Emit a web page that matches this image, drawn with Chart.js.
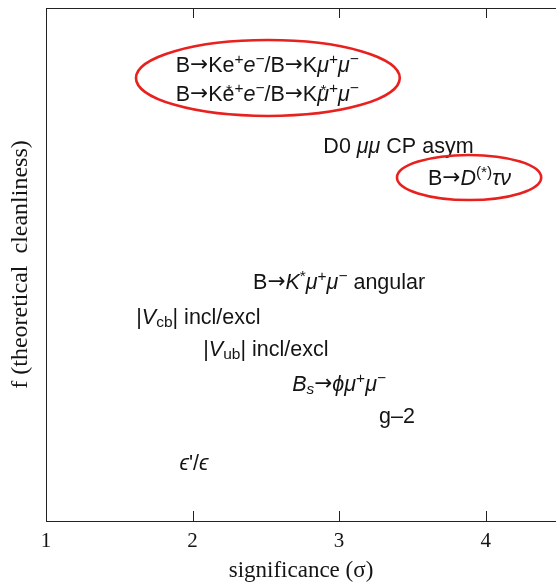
<!DOCTYPE html>
<html>
<head>
<meta charset="utf-8">
<script src="https://cdn.jsdelivr.net/npm/chart.js@4.4.1/dist/chart.umd.min.js"></script>
<style>
  html, body { margin: 0; padding: 0; background: #fff; }
  #wrap { width: 556px; height: 582px; }
</style>
</head>
<body>
<div id="wrap"><canvas id="c" width="556" height="582"></canvas></div>
<script>
// Measurements: label markup ($ toggles italic, ^{} superscript, _{} subscript,
// ~{} superscript drawn over the next glyph without advancing)
const measurements = [
  'B→Ke^{+}$e$^{−}/B→K$μ$^{+}$μ$^{−}',
  'B→K~{*}e^{+}$e$^{−}/B→K~{*}$μ$^{+}$μ$^{−}',
  'D0 $μμ$ CP asym',
  'B→$D$^{(*)}$τν$',
  'B→$K$^{*}$μ$^{+}$μ$^{−} angular',
  '|$V$_{cb}| incl/excl',
  '|$V$_{ub}| incl/excl',
  '$B$_{$s$}→$ϕμ$^{+}$μ$^{−}',
  'g–2',
  '$ϵ$\'/$ϵ$'
];
// significance (sigma)
const significance = [2.51, 2.51, 3.405, 3.89, 3.0, 2.04, 2.5, 3.0, 3.395, 2.01];
// theoretical cleanliness (arbitrary 0..1 scale)
const cleanliness = [0.891, 0.834, 0.733, 0.671, 0.468, 0.400, 0.337, 0.269, 0.207, 0.115];

const xTicks = [1, 2, 3, 4];

// highlighted groups: centre and half-widths in axis units
const ringX  = [2.514, 3.887];
const ringY  = [0.8635, 0.6696];
const ringRX = [0.900, 0.492];
const ringRY = [0.074, 0.0439];

const SANS = '"Liberation Sans", Arial, Helvetica, sans-serif';
const ARROW = '"DejaVu Sans", sans-serif';
const SERIF = '"Liberation Serif", "Times New Roman", Times, serif';
const INK = '#141414';
const LABEL_SIZE = 21.5;

function parseMarkup(str) {
  const segs = [];
  let italic = false, shift = null, buf = '';
  const flush = () => {
    if (buf) segs.push({ text: buf, italic, shift });
    buf = '';
  };
  for (let i = 0; i < str.length; i++) {
    const ch = str[i];
    if (ch === '$') { flush(); italic = !italic; continue; }
    if ((ch === '^' || ch === '_' || ch === '~') && str[i + 1] === '{') {
      flush();
      shift = ch === '^' ? 'sup' : ch === '_' ? 'sub' : 'over';
      i++;
      continue;
    }
    if (ch === '}' && shift) { flush(); shift = null; continue; }
    if (ch === '→') {
      flush();
      segs.push({ text: ch, italic: false, shift: null, arrow: true });
      continue;
    }
    buf += ch;
  }
  flush();
  return segs;
}

function segFont(seg, size) {
  if (seg.arrow) return size.toFixed(1) + 'px ' + ARROW;
  const s = seg.shift ? size * 0.72 : size;
  return (seg.italic ? 'italic ' : '') + s.toFixed(1) + 'px ' + SANS;
}

function drawRich(ctx, str, cx, cy, size) {
  const segs = parseMarkup(str);
  let total = 0;
  segs.forEach(seg => {
    ctx.font = segFont(seg, size);
    seg.w = ctx.measureText(seg.text).width;
    if (seg.shift !== 'over') total += seg.w;
  });
  let x = cx - total / 2;
  const base = cy + size * 0.36;
  ctx.textBaseline = 'alphabetic';
  ctx.textAlign = 'left';
  segs.forEach(seg => {
    ctx.font = segFont(seg, size);
    let y = base;
    if (seg.shift === 'sup') y = base - size * 0.36;
    if (seg.shift === 'over') y = base - size * 0.28;
    if (seg.shift === 'sub') y = base + size * 0.16;
    if (seg.arrow) y = base - size * 0.03;
    if (seg.shift === 'over') {
      ctx.fillText(seg.text, x + size * 0.16, y);
    } else {
      ctx.fillText(seg.text, x, y);
      x += seg.w;
    }
  });
}

const annotate = {
  id: 'annotate',
  afterDatasetsDraw(chart) {
    const { ctx, chartArea, scales } = chart;
    const xs = scales.x, ys = scales.y;
    ctx.save();
    // top frame line with inward ticks on both horizontal edges
    ctx.strokeStyle = '#222';
    ctx.lineWidth = 1;
    ctx.beginPath();
    ctx.moveTo(chartArea.left, chartArea.top + 0.5);
    ctx.lineTo(chartArea.right, chartArea.top + 0.5);
    xTicks.forEach(v => {
      const px = Math.round(xs.getPixelForValue(v)) + 0.5;
      ctx.moveTo(px, chartArea.bottom);
      ctx.lineTo(px, chartArea.bottom - 10);
      ctx.moveTo(px, chartArea.top);
      ctx.lineTo(px, chartArea.top + 10);
    });
    ctx.stroke();

    // text labels
    ctx.fillStyle = INK;
    measurements.forEach((m, i) => {
      drawRich(ctx, m, xs.getPixelForValue(significance[i]), ys.getPixelForValue(cleanliness[i]), LABEL_SIZE);
    });

    // red rings
    ctx.strokeStyle = '#e8201e';
    ctx.lineWidth = 2.6;
    ringX.forEach((v, i) => {
      const cx = xs.getPixelForValue(v);
      const cy = ys.getPixelForValue(ringY[i]);
      const rx = Math.abs(xs.getPixelForValue(v + ringRX[i]) - cx);
      const ry = Math.abs(ys.getPixelForValue(ringY[i] + ringRY[i]) - cy);
      ctx.beginPath();
      ctx.ellipse(cx, cy, rx, ry, 0, 0, Math.PI * 2);
      ctx.stroke();
    });
    ctx.restore();
  }
};

new Chart(document.getElementById('c'), {
  type: 'scatter',
  data: {
    datasets: [{
      data: significance.map((v, i) => ({ x: v, y: cleanliness[i] })),
      pointRadius: 0,
      pointHoverRadius: 0,
      showLine: false
    }]
  },
  options: {
    responsive: false,
    animation: false,
    devicePixelRatio: 1,
    layout: { padding: { top: 8, right: 0, left: 0, bottom: 0 } },
    plugins: { legend: { display: false }, tooltip: { enabled: false } },
    scales: {
      x: {
        type: 'linear',
        min: 1,
        max: 4.48,
        afterBuildTicks: s => { s.ticks = xTicks.map(v => ({ value: v })); },
        afterFit: s => { s.height = 61; },
        ticks: {
          font: { family: SERIF, size: 21 },
          color: INK,
          padding: 8,
          maxRotation: 0,
          autoSkip: false
        },
        grid: { display: false, drawTicks: false },
        border: { display: true, color: '#222', width: 1 },
        title: {
          display: true,
          text: 'significance (σ)',
          font: { family: SERIF, size: 23, lineHeight: 1 },
          color: INK,
          padding: { top: 0, bottom: 0 }
        }
      },
      y: {
        type: 'linear',
        min: 0,
        max: 1,
        afterFit: s => { s.width = 46; },
        ticks: { display: false },
        grid: { display: false, drawTicks: false },
        border: { display: true, color: '#222', width: 1 },
        title: {
          display: true,
          text: 'f (theoretical  cleanliness)',
          font: { family: SERIF, size: 24, lineHeight: 1 },
          color: INK,
          padding: { top: 9, bottom: 0 }
        }
      }
    }
  },
  plugins: [annotate]
});
</script>
</body>
</html>
